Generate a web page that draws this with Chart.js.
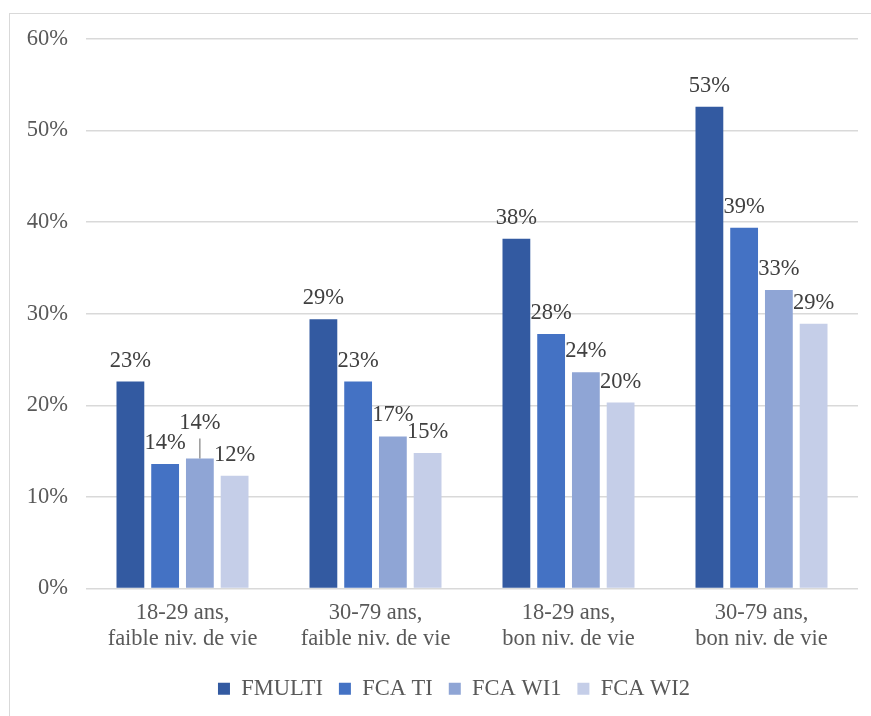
<!DOCTYPE html>
<html>
<head>
<meta charset="utf-8">
<script src="https://cdn.jsdelivr.net/npm/chart.js@4.4.1/dist/chart.umd.min.js"></script>
<style>
  html, body { margin: 0; padding: 0; background: #fff; }
  #frame { position: absolute; left: 9px; top: 13px; width: 900px; height: 720px; border: 1.5px solid #d9d9d9; }
  #wrap { position: absolute; left: 0; top: 0; width: 871px; height: 716px; }
</style>
</head>
<body>
<div id="frame"></div>
<div id="wrap"><canvas id="pic"></canvas></div>
<script>
var categories = [
    ['18-29 ans,', 'faible niv. de vie'],
    ['30-79 ans,', 'faible niv. de vie'],
    ['18-29 ans,', 'bon niv. de vie'],
    ['30-79 ans,', 'bon niv. de vie']
];
var seriesNames = ['FMULTI', 'FCA TI', 'FCA WI1', 'FCA WI2'];
var fmulti = [22.6, 29.4, 38.2, 52.6];
var fcati  = [13.6, 22.6, 27.8, 39.4];
var fcawi1 = [14.2, 16.6, 23.6, 32.6];
var fcawi2 = [12.3, 14.8, 20.3, 28.9];
var yTicks = [0, 10, 20, 30, 40, 50, 60];

var colors = ['#335AA1', '#4472C4', '#8FA5D5', '#C5CEE8'];
var serif = "'Liberation Serif', 'Times New Roman', serif";

// labels drawn above the bars, one of them lifted with a small leader line
var barLabels = {
    id: 'barLabels',
    afterDatasetsDraw: function (chart, args, opts) {
        var ctx = chart.ctx;
        ctx.save();
        ctx.font = '22.5px ' + serif;
        ctx.fillStyle = '#404040';
        ctx.textAlign = 'center';
        ctx.textBaseline = 'alphabetic';
        chart.data.datasets.forEach(function (ds, di) {
            var meta = chart.getDatasetMeta(di);
            meta.data.forEach(function (bar, i) {
                var lift = 0;
                opts.lifted.forEach(function (l) {
                    if (l.dataset == di && l.index == i) lift = l.lift;
                });
                var y = bar.y - 15 - lift;
                if (lift > 0) {
                    ctx.strokeStyle = '#7f7f7f';
                    ctx.lineWidth = 1.2;
                    ctx.beginPath();
                    ctx.moveTo(bar.x, bar.y);
                    ctx.lineTo(bar.x, y + 9);
                    ctx.stroke();
                }
                ctx.fillText(Math.round(ds.data[i]) + '%', bar.x, y);
            });
        });
        ctx.restore();
    }
};

// legend sits centred on the framed area, a bit right of the canvas centre
var legendShift = {
    id: 'legendShift',
    afterLayout: function (chart) {
        chart.legend.left += 25;
        chart.legend.right += 25;
    }
};

function init() {
    var ctx = document.getElementById('pic').getContext('2d');
    var data = [fmulti, fcati, fcawi1, fcawi2];
    var chart = new Chart(ctx, {
        type: 'bar',
        data: {
            labels: categories,
            datasets: seriesNames.map(function (name, k) {
                return {
                    label: name,
                    data: data[k],
                    backgroundColor: colors[k],
                    borderWidth: 0,
                    categoryPercentage: 0.72,
                    barPercentage: 0.8
                };
            })
        },
        plugins: [barLabels, legendShift],
        options: {
            responsive: true,
            maintainAspectRatio: false,
            animation: false,
            layout: { padding: { left: 0, right: 13, top: 39, bottom: 6 } },
            plugins: {
                tooltip: { enabled: false },
                barLabels: { lifted: [{ dataset: 2, index: 0, lift: 14 }] },
                legend: {
                    position: 'bottom',
                    labels: {
                        boxWidth: 12,
                        boxHeight: 12,
                        padding: 16,
                        color: '#595959',
                        font: { family: serif, size: 22.5 }
                    }
                }
            },
            scales: {
                x: {
                    grid: { display: false },
                    border: { display: false },
                    ticks: {
                        color: '#595959',
                        padding: 4,
                        font: { family: serif, size: 22.5, lineHeight: 1.15 }
                    },
                    afterFit: function (scale) { scale.height = 73; }
                },
                y: {
                    min: 0,
                    max: 60,
                    afterBuildTicks: function (scale) {
                        scale.ticks = yTicks.map(function (v) { return { value: v }; });
                    },
                    grid: { color: '#D9D9D9', lineWidth: 1.5, drawTicks: false },
                    border: { display: false },
                    ticks: {
                        color: '#595959',
                        padding: 18,
                        font: { family: serif, size: 22.5 },
                        callback: function (v) { return v + '%'; }
                    },
                    afterFit: function (scale) { scale.width = 86; }
                }
            }
        }
    });
}
window.onload = function () {
    init();
};
</script>
</body>
</html>
